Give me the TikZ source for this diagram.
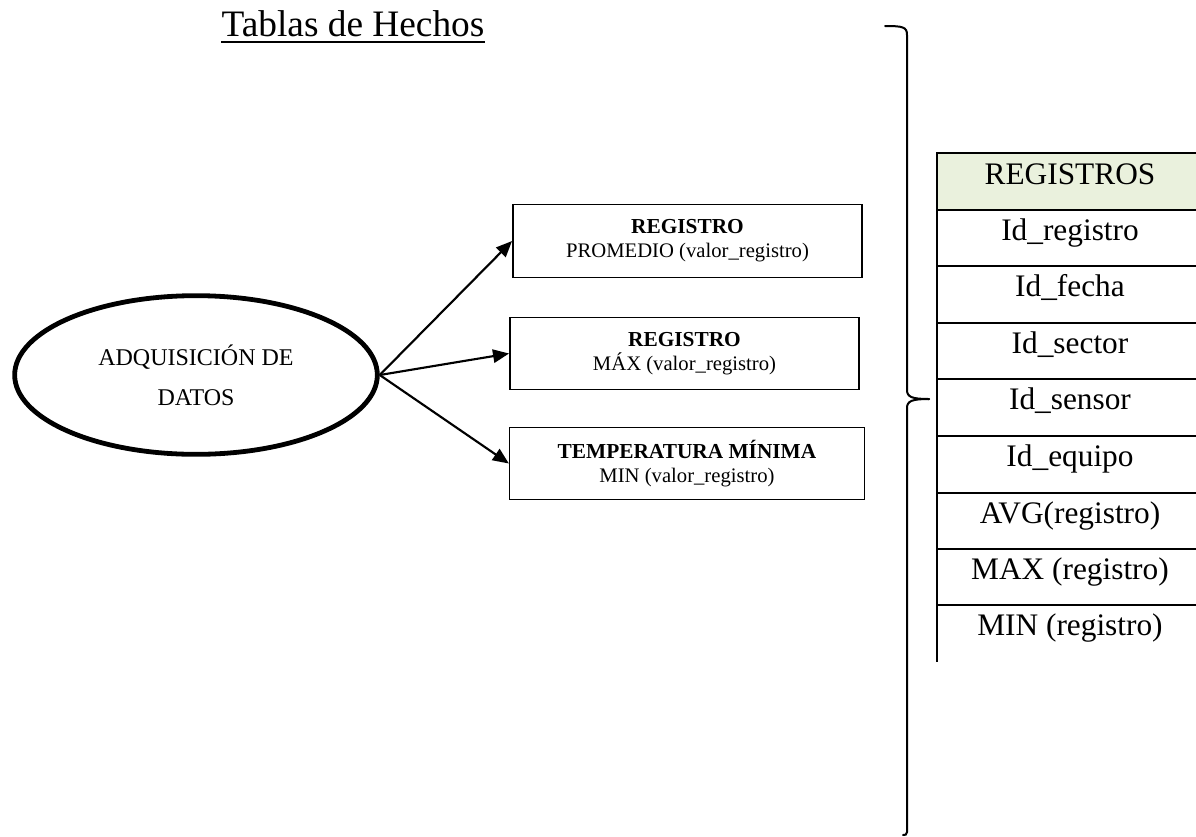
\documentclass[tikz,border=0pt]{standalone}
\usepackage{fontspec}
\setmainfont{Liberation Serif}
\usetikzlibrary{shapes.geometric,arrows.meta}
\definecolor{hdrgreen}{RGB}{234,241,221}
\begin{document}
\begin{tikzpicture}[x=0.75pt,y=-0.75pt,
  boxnode/.style={draw,line width=1.2pt,inner sep=0pt,align=center,font=\fontsize{15.5}{18}\selectfont},
  arr/.style={line width=1.6pt,-{Triangle[length=12pt,width=10pt]}},
  celltext/.style={anchor=base,inner sep=0pt,font=\fontsize{23.5}{28}\selectfont},
  tline/.style={line width=0.8pt},
  bracestyle/.style={line width=1.5pt,line cap=round}]
\useasboundingbox (0,0) rectangle (1196,836);
% title
\node[anchor=base,inner sep=0pt,font=\fontsize{28}{32}\selectfont] (title) at (353,36) {Tablas de Hechos};
\draw[line width=1.5pt] ([yshift=-4.5pt]title.base west) -- ([yshift=-4.5pt]title.base east);
% ellipse
\node[ellipse,draw,line width=3.6pt,minimum width=272pt,minimum height=119pt,inner sep=0pt,align=center,font=\fontsize{18}{30}\selectfont] (e) at (196,375) {ADQUISICIÓN DE\\DATOS};
% boxes
\node[boxnode,minimum width=262pt,minimum height=54.5pt] (b1) at (687.5,241) {\textbf{\fontsize{16}{18}\selectfont REGISTRO}\\PROMEDIO (valor\_registro)};
\node[boxnode,minimum width=262pt,minimum height=54pt] (b2) at (684.5,353.5) {\textbf{\fontsize{16}{18}\selectfont REGISTRO}\\MÁX (valor\_registro)};
\node[boxnode,minimum width=266pt,minimum height=54pt] (b3) at (687,463.5) {\textbf{\fontsize{16}{18}\selectfont TEMPERATURA MÍNIMA}\\MIN (valor\_registro)};
% arrows
\draw[arr] (e.east) -- (b1.west);
\draw[arr] (e.east) -- (b2.west);
\draw[arr] (e.east) -- (b3.west);
% brace
\draw[bracestyle] (885,26) .. controls (903,26) and (907,27) .. (907,35) -- (907,390) .. controls (907,397) and (912,399) .. (929,399);
\draw[bracestyle] (929,399) .. controls (912,399) and (907,401) .. (907,408) -- (907,832) .. controls (907,835) and (905,835) .. (903,835);
% table
\fill[hdrgreen] (937,153) rectangle (1196,210);
\draw[tline] (1196,153) -- (937,153) -- (937,662);
\foreach \yy in {210,266,323,379,436,493,549,605} \draw[tline] (937,\yy) -- (1196,\yy);
\node[celltext] (h) at (1070,184) {REGISTROS};
\node[celltext] (r1) at (1070,240) {Id\_registro};
\node[celltext] (r2) at (1070,296) {Id\_fecha};
\node[celltext] (r3) at (1070,353) {Id\_sector};
\node[celltext] (r4) at (1070,409) {Id\_sensor};
\node[celltext] (r5) at (1070,466) {Id\_equipo};
\node[celltext] (r6) at (1070,523) {AVG(registro)};
\node[celltext] (r7) at (1070,579) {MAX (registro)};
\node[celltext] (r8) at (1070,635) {MIN (registro)};
\end{tikzpicture}
\end{document}
